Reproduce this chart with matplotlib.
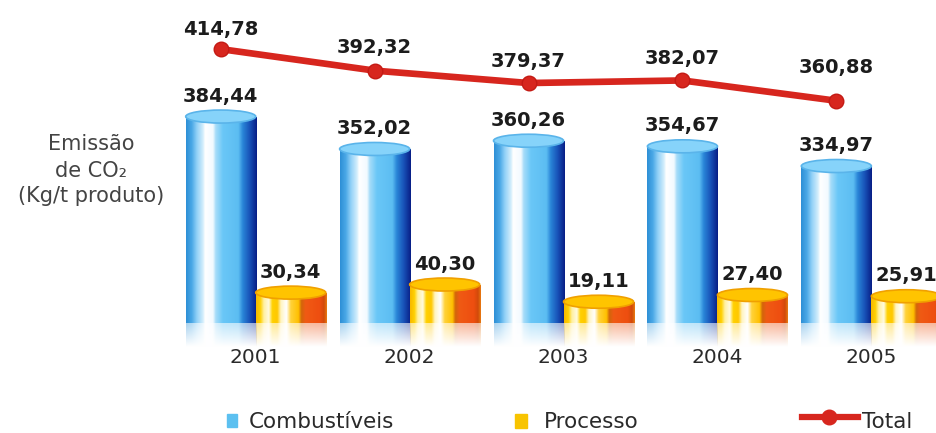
import numpy as np
import matplotlib.pyplot as plt
from matplotlib.colors import LinearSegmentedColormap
from matplotlib.patches import Ellipse, Rectangle
from matplotlib.lines import Line2D

anos = ['2001', '2002', '2003', '2004', '2005']
combustiveis = [384.44, 352.02, 360.26, 354.67, 334.97]
processo = [30.34, 40.30, 19.11, 27.40, 25.91]
total = [414.78, 392.32, 379.37, 382.07, 360.88]

W, H = 936, 433
ALT_PX = 323          # altura da area dos cilindros, em pixels
LARG = 0.455          # largura de cada cilindro (1 = distancia entre anos)

azul = LinearSegmentedColormap.from_list('azul', [
    (0.00, '#2d8fd6'), (0.08, '#4aa8e6'), (0.15, '#8fd0f7'), (0.24, '#d4eefc'),
    (0.27, '#ffffff'), (0.38, '#f2faff'), (0.42, '#a6dcf9'), (0.52, '#6ac7f7'),
    (0.74, '#5cbdf2'), (0.80, '#2a86d8'), (0.90, '#1852b8'), (1.00, '#081e86')])
amarelo = LinearSegmentedColormap.from_list('amarelo', [
    (0.00, '#f7b800'), (0.06, '#ffd000'), (0.11, '#fff0a0'), (0.18, '#fffbe0'),
    (0.23, '#ffd000'), (0.30, '#ffc800'), (0.35, '#fff4c0'), (0.43, '#ffffff'),
    (0.49, '#ffd23a'), (0.60, '#ffc000'), (0.64, '#d2660a'), (0.70, '#f05a14'),
    (0.90, '#ee4e10'), (0.96, '#d24a0a'), (1.00, '#e87a10')])


def rotulo(v):
    return f'{v:.2f}'.replace('.', ',')


def px_dados(ax, n):
    y0, y1 = ax.get_ylim()
    return n * (y1 - y0) / ALT_PX


def cilindros(ax, pos, valores, cmap, cor_topo, cor_borda):
    y0 = ax.get_ylim()[0]
    alturas = np.asarray(valores) - y0
    barras = ax.bar(pos, alturas, bottom=y0, width=LARG, color='none', zorder=2)
    grad = np.linspace(0, 1, 256)[None, :]
    # reflexo esmaecido abaixo da base
    cores = cmap(np.linspace(0, 1, 256))[:, :3]
    cores = cores * 0.45 + 0.55
    fade = np.linspace(0.9, 0.0, 30)[:, None, None]
    reflexo = np.concatenate([np.broadcast_to(cores, (30, 256, 3)),
                              np.broadcast_to(fade, (30, 256, 1))], axis=2)
    for b, v in zip(barras, valores):
        x0, w = b.get_x(), b.get_width()
        im = ax.imshow(grad, cmap=cmap, extent=[x0, x0 + w, y0, v],
                       aspect='auto', interpolation='bilinear', zorder=2)
        im.set_clip_path(b)
        ax.add_patch(Ellipse((x0 + w / 2, v), w, px_dados(ax, 13),
                             facecolor=cor_topo, edgecolor=cor_borda,
                             lw=1.2, zorder=3))
        ax.imshow(reflexo, extent=[x0, x0 + w, y0 - px_dados(ax, 24), y0],
                  aspect='auto', interpolation='bilinear', zorder=1,
                  clip_on=False)
    return barras


fig = plt.figure(figsize=(W / 100, H / 100), dpi=100)
ax_c = fig.add_axes([148 / W, 1 - ALT_PX / H, 1 - 148 / W, ALT_PX / H])
ax_p = ax_c.twinx()
ax_t = ax_c.twinx()

x = np.arange(len(anos))
pos_c = x - LARG / 2
pos_p = x + LARG / 2
lim_x = (-0.70, 4.42)
lim_c, lim_p, lim_t = (178, 501), (-7, 390), (129, 466)
ax_c.set_ylim(*lim_c)
ax_p.set_ylim(*lim_p)
ax_t.set_ylim(*lim_t)
ax_c.set_xlim(*lim_x)

cilindros(ax_c, pos_c, combustiveis, azul, '#86d3fa', '#5ab4ea')
cilindros(ax_p, pos_p, processo, amarelo, '#ffc400', '#f0a000')

ax_t.plot(pos_c, total, color='#d7261e', lw=4.8, marker='o', ms=10.5,
          mfc='#d7261e', mec='#c41a14', solid_capstyle='round', zorder=5)

fonte_val = dict(ha='center', va='baseline', fontsize=14, fontweight='bold',
                 color='#1c1c1c', textcoords='offset points')
for xi, v in zip(pos_c, combustiveis):
    ax_c.annotate(rotulo(v), (xi, v), xytext=(0, 10.8), **fonte_val)
for xi, v in zip(pos_p, processo):
    ax_p.annotate(rotulo(v), (xi, v), xytext=(0, 10.8), **fonte_val)
desloc_total = [14, 18, 16, 16, 28]
for xi, v, d in zip(pos_c, total, desloc_total):
    ax_t.annotate(rotulo(v), (xi, v), xytext=(0, d * 0.72), **fonte_val)

for ax in (ax_c, ax_p, ax_t):
    for s in ax.spines.values():
        s.set_visible(False)
    ax.set_yticks([])
    ax.patch.set_visible(False)
ax_c.set_xticks(x, anos)
ax_c.tick_params(axis='x', length=0, pad=18, labelsize=14.5,
                 labelcolor='#2a2a2a')
ax_c.set_xlim(*lim_x)
ax_c.set_ylim(*lim_c)
ax_p.set_ylim(*lim_p)
ax_t.set_ylim(*lim_t)

# titulo do eixo
fonte_eixo = dict(ha='center', va='baseline', fontsize=15, color='#444444')
fig.text(91 / W, 1 - 150 / H, 'Emissão', **fonte_eixo)
fig.text(91 / W, 1 - 177 / H, 'de CO₂', **fonte_eixo)
fig.text(91 / W, 1 - 202 / H, '(Kg/t produto)', **fonte_eixo)

# legenda
fonte_leg = dict(ha='left', va='baseline', fontsize=15.5, color='#2a2a2a')
fig.add_artist(Rectangle((227 / W, 1 - 427 / H), 10 / W, 13 / H,
                         transform=fig.transFigure, color='#5cc0f0'))
fig.text(249 / W, 1 - 428 / H, 'Combustíveis', **fonte_leg)
fig.add_artist(Rectangle((515 / W, 1 - 428 / H), 12 / W, 14 / H,
                         transform=fig.transFigure, color='#f8c400'))
fig.text(544 / W, 1 - 428 / H, 'Processo', **fonte_leg)
fig.add_artist(Line2D([802 / W, 858 / W], [1 - 417 / H, 1 - 417 / H],
                      transform=fig.transFigure, color='#d7261e', lw=4.5))
fig.add_artist(Line2D([829 / W], [1 - 417 / H], transform=fig.transFigure,
                      marker='o', ms=10.5, color='#d7261e'))
fig.text(862 / W, 1 - 428 / H, 'Total', **fonte_leg)

fig.savefig('out.png', dpi=100)
